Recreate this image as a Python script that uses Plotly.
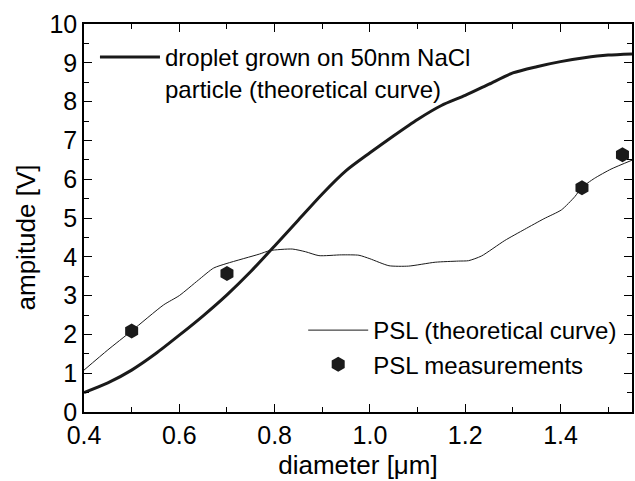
import plotly.graph_objects as go

# Droplet grown on 50nm NaCl particle (theoretical curve)
droplet_x = [0.40, 0.45, 0.50, 0.55, 0.60, 0.65, 0.70, 0.75, 0.80, 0.85, 0.90, 0.95,
             1.00, 1.05, 1.10, 1.15, 1.20, 1.25, 1.30, 1.35, 1.40, 1.45, 1.50, 1.55]
droplet_y = [0.50, 0.75, 1.08, 1.50, 1.98, 2.48, 3.02, 3.62, 4.28, 4.95, 5.62, 6.22,
             6.68, 7.12, 7.54, 7.90, 8.16, 8.45, 8.74, 8.90, 9.03, 9.13, 9.20, 9.23]

# PSL (theoretical curve)
psl_x = [0.40, 0.45, 0.50, 0.567, 0.60, 0.64, 0.672, 0.70, 0.768, 0.79, 0.837, 0.865,
         0.893, 0.94, 0.977, 1.00, 1.04, 1.081, 1.137, 1.186, 1.207, 1.234, 1.283,
         1.325, 1.365, 1.402, 1.43, 1.444, 1.471, 1.506, 1.55]
psl_y = [1.08, 1.60, 2.09, 2.76, 3.00, 3.40, 3.71, 3.83, 4.07, 4.16, 4.20, 4.13,
         4.03, 4.05, 4.04, 3.95, 3.77, 3.76, 3.86, 3.89, 3.90, 4.02, 4.42,
         4.71, 4.98, 5.21, 5.55, 5.78, 6.02, 6.26, 6.49]

# PSL measurements
meas_x = [0.50, 0.70, 1.445, 1.53]
meas_y = [2.09, 3.57, 5.78, 6.63]

x_ticks = [0.4, 0.6, 0.8, 1.0, 1.2, 1.4]
y_ticks = list(range(0, 11))

FONT = "Liberation Sans, Arial, Helvetica, sans-serif"
INK = "#1a1a1a"

fig = go.Figure()
fig.add_trace(go.Scatter(
    x=droplet_x, y=droplet_y, mode="lines",
    line=dict(color=INK, width=3, shape="spline", smoothing=0.7),
    name="droplet grown on 50nm NaCl<br>particle (theoretical curve)",
    legend="legend"))
fig.add_trace(go.Scatter(
    x=psl_x, y=psl_y, mode="lines",
    line=dict(color=INK, width=1, shape="spline", smoothing=0.6),
    name="PSL (theoretical curve)", legend="legend2"))
fig.add_trace(go.Scatter(
    x=meas_x, y=meas_y, mode="markers",
    marker=dict(symbol="hexagon", size=15, color=INK, line=dict(width=0)),
    name="PSL measurements", legend="legend2"))

axis_common = dict(
    showline=True, linecolor="black", linewidth=1.5, mirror="ticks",
    ticks="inside", ticklen=8, tickwidth=1.2, tickcolor="black",
    showgrid=False, zeroline=False,
    tickfont=dict(family=FONT, size=25, color="black"),
)

fig.update_xaxes(
    range=[0.4, 1.55], tickvals=x_ticks, ticktext=[f"{v:.1f}" for v in x_ticks],
    minor=dict(dtick=0.1, tick0=0.4, ticks="inside", ticklen=5, tickwidth=1.2, tickcolor="black"),
    title=dict(text="diameter [\u03bcm]", font=dict(family=FONT, size=26, color="black"), standoff=8),
    **axis_common)
fig.update_yaxes(
    range=[0, 10], tickvals=y_ticks,
    minor=dict(dtick=0.5, tick0=0, ticks="inside", ticklen=5, tickwidth=1.2, tickcolor="black"),
    **axis_common)

fig.add_annotation(
    text="ampitude [V]", textangle=-90, xref="paper", yref="paper",
    x=-0.105, y=0.451, xanchor="center", yanchor="middle", showarrow=False,
    font=dict(family=FONT, size=26, color="black"))

legend_font = dict(family=FONT, size=24, color="black")
fig.update_layout(
    width=635, height=481,
    margin=dict(l=84, r=1, t=24, b=69),
    paper_bgcolor="white", plot_bgcolor="white",
    font=dict(family=FONT, color="black"),
    showlegend=True,
    legend=dict(x=0.02, y=0.972, xanchor="left", yanchor="top", font=legend_font,
                bgcolor="rgba(0,0,0,0)", valign="top", itemwidth=60, tracegroupgap=0),
    legend2=dict(x=0.4, y=0.268, xanchor="left", yanchor="top", font=legend_font,
                 bgcolor="rgba(0,0,0,0)", itemwidth=60, tracegroupgap=0),
)

fig.write_html("out.html", config={"displayModeBar": False},
               post_script="document.body.style.margin='0';")
